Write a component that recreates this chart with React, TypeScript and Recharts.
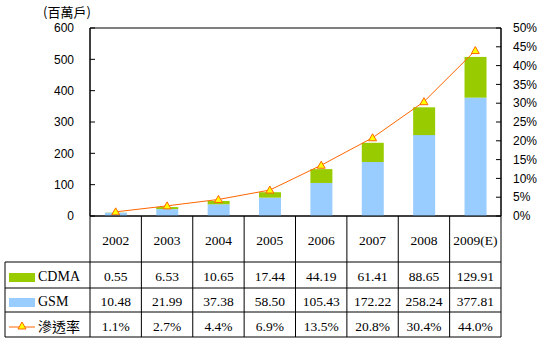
import { ComposedChart, Bar, Line, XAxis, YAxis, ReferenceArea } from 'recharts'

const years = ['2002', '2003', '2004', '2005', '2006', '2007', '2008', '2009(E)']
const cdma = [0.55, 6.53, 10.65, 17.44, 44.19, 61.41, 88.65, 129.91]
const gsm = [10.48, 21.99, 37.38, 58.5, 105.43, 172.22, 258.24, 377.81]
const rate = [1.1, 2.7, 4.4, 6.9, 13.5, 20.8, 30.4, 44.0]
const leftTicks = [0, 100, 200, 300, 400, 500, 600]
const rightTicks = [0, 5, 10, 15, 20, 25, 30, 35, 40, 45, 50]

const data = years.map((y, i) => ({ year: y, cdma: cdma[i], gsm: gsm[i], rate: rate[i] }))

const GREEN = '#99CC00'
const BLUE = '#99CCFF'
const ORANGE = '#FF6600'
const serif = '"Liberation Serif", serif'
const cjk = '"Noto Sans CJK TC", sans-serif'

// row layout of the table under the plot, relative to the x axis line
const rowTops = [0, 46, 72, 96, 121]
const rowText = [24, 60, 85, 110]

function Tri({ cx, cy }: any) {
  if (cx == null || cy == null) return null
  return (
    <polygon
      points={`${cx},${cy - 4} ${cx - 4},${cy + 3} ${cx + 4},${cy + 3}`}
      fill="#FFFF00"
      stroke={ORANGE}
      strokeWidth={1}
    />
  )
}

function TableTick(props: any) {
  const { x, y, payload } = props
  const i = payload.index
  const band = typeof props.width === 'number' && props.width > 0 ? props.width / years.length : 51.375
  const left = x - band / 2
  const right = x + band / 2
  const x0 = left - i * band
  const xEnd = x0 + band * years.length
  const tableLeft = 5
  const fmt = (v: number) => v.toFixed(2)
  const cells = [years[i], fmt(cdma[i]), fmt(gsm[i]), rate[i].toFixed(1) + '%']
  return (
    <g>
      {cells.map((c, r) => (
        <text
          key={r}
          x={x}
          y={y + rowText[r]}
          textAnchor="middle"
          dominantBaseline="central"
          fontFamily={serif}
          fontSize={13.5}
          fill="#000"
        >
          {c}
        </text>
      ))}
      <line x1={right} y1={y} x2={right} y2={y + rowTops[4]} stroke="#000" />
      {i === 0 && (
        <g>
          <line x1={left} y1={y} x2={left} y2={y + rowTops[4]} stroke="#000" />
          <line x1={x0} y1={y} x2={xEnd} y2={y} stroke="#000" />
          {rowTops.slice(1).map((t) => (
            <line key={t} x1={tableLeft} y1={y + t} x2={xEnd} y2={y + t} stroke="#000" />
          ))}
          <line x1={tableLeft} y1={y + rowTops[1]} x2={tableLeft} y2={y + rowTops[4]} stroke="#000" />
          <rect x={9} y={y + 57} width={26} height={9} fill={GREEN} />
          <text x={38} y={y + rowText[1]} dominantBaseline="central" fontFamily={serif} fontSize={14} fill="#000">
            CDMA
          </text>
          <rect x={9} y={y + 82} width={26} height={9} fill={BLUE} />
          <text x={38} y={y + rowText[2]} dominantBaseline="central" fontFamily={serif} fontSize={14} fill="#000">
            GSM
          </text>
          <line x1={9} y1={y + 111} x2={35} y2={y + 111} stroke={ORANGE} />
          <Tri cx={22} cy={y + 110} />
          <text x={38} y={y + rowText[3]} dominantBaseline="central" fontFamily={cjk} fontSize={14} fill="#000">
            滲透率
          </text>
        </g>
      )}
    </g>
  )
}

export default function App() {
  const tickStyle = { fontFamily: '"Liberation Sans", Arial, sans-serif', fontSize: 12, fill: '#000' }
  return (
    <div style={{ position: 'absolute', left: 0, top: 0, width: 544, height: 343, background: '#fff' }}>
      <div
        style={{
          position: 'absolute',
          left: 43,
          top: 3,
          fontFamily: '"Noto Sans CJK TC", sans-serif',
          fontSize: 13,
          lineHeight: '18px',
          color: '#000',
        }}
      >
        (百萬戶)
      </div>
      <ComposedChart
        width={544}
        height={343}
        data={data}
        margin={{ top: 28, right: 0, bottom: 6, left: 40 }}
        barCategoryGap="29%"
      >
        <XAxis
          dataKey="year"
          interval={0}
          height={121}
          axisLine={false}
          tickLine={false}
          tickSize={0}
          tickMargin={0}
          tick={<TableTick />}
        />
        <YAxis
          yAxisId="left"
          width={50}
          domain={[0, 600]}
          ticks={leftTicks}
          interval={0}
          axisLine={{ stroke: '#000' }}
          tickLine={{ stroke: '#000' }}
          tickSize={-5}
          tickMargin={21}
          tick={tickStyle}
        />
        <YAxis
          yAxisId="right"
          orientation="right"
          width={43}
          domain={[0, 50]}
          ticks={rightTicks}
          interval={0}
          tickFormatter={(v: number) => `${v}%`}
          axisLine={{ stroke: '#000' }}
          tickLine={{ stroke: '#000' }}
          tickSize={-5}
          tickMargin={17}
          tick={{ ...tickStyle, textAnchor: 'start' }}
        />
        <ReferenceArea yAxisId="left" y1={0} y2={600} fill="none" stroke="#000" />
        <Bar yAxisId="left" dataKey="gsm" stackId="a" fill={BLUE} isAnimationActive={false} />
        <Bar yAxisId="left" dataKey="cdma" stackId="a" fill={GREEN} isAnimationActive={false} />
        <Line
          yAxisId="right"
          dataKey="rate"
          stroke={ORANGE}
          strokeWidth={1}
          dot={<Tri />}
          activeDot={false}
          isAnimationActive={false}
        />
      </ComposedChart>
    </div>
  )
}
